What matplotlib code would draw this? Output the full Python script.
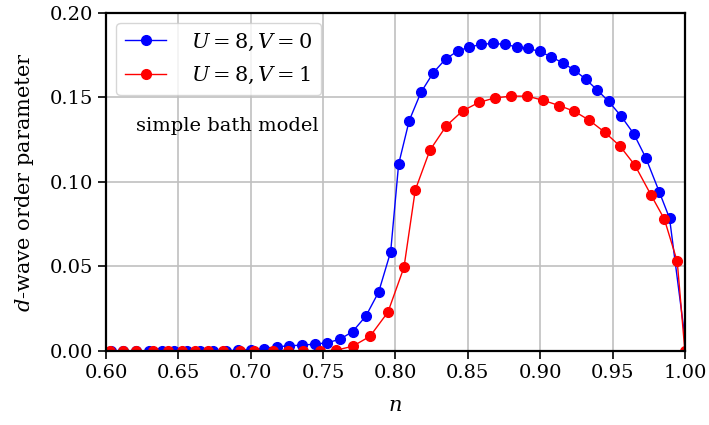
import matplotlib
matplotlib.use("Agg")
import matplotlib.pyplot as plt

plt.rcParams['font.family'] = ['DejaVu Serif']
plt.rcParams['mathtext.fontset'] = 'dejavuserif'

# U=8, V=0 (blue)
n_v0 = [0.6035, 0.612, 0.621, 0.630, 0.639, 0.647, 0.656, 0.665, 0.674, 0.683,
        0.691, 0.700, 0.709, 0.7179, 0.7266, 0.7354, 0.7444, 0.7529, 0.7617,
        0.7704, 0.7796, 0.7884, 0.7967, 0.8022, 0.8095, 0.8176, 0.8261, 0.8346,
        0.8429, 0.851, 0.8593, 0.8674, 0.8754, 0.884, 0.8918, 0.8996, 0.9077,
        0.9155, 0.9236, 0.9314, 0.9393, 0.9473, 0.9558, 0.9647, 0.973, 0.9823,
        0.9894, 1.0012]
d_v0 = [0.0, 0.0, 0.0, 0.0, 0.0, 0.0, 0.0, 0.0, 0.0, 0.0002,
        0.0005, 0.0009, 0.0015, 0.0025, 0.0031, 0.0035, 0.0041, 0.0049, 0.007,
        0.0115, 0.0207, 0.0349, 0.0587, 0.1105, 0.1362, 0.1529, 0.1645, 0.1726,
        0.1773, 0.1797, 0.1813, 0.1819, 0.1813, 0.1798, 0.1789, 0.1771, 0.1739,
        0.1704, 0.1661, 0.1608, 0.1544, 0.1476, 0.139, 0.1284, 0.1142, 0.0941,
        0.0785, 0.0]

# U=8, V=1 (red)
n_v1 = [0.6028, 0.6115, 0.6207, 0.6326, 0.643, 0.6522, 0.6614, 0.6706, 0.681,
        0.6925, 0.7022, 0.7156, 0.7259, 0.7363, 0.7478, 0.7589, 0.7704, 0.7824,
        0.7948, 0.8059, 0.8137, 0.8238, 0.8352, 0.8464, 0.8577, 0.8689, 0.8801,
        0.8911, 0.9022, 0.9132, 0.9237, 0.934, 0.9447, 0.9551, 0.9655, 0.9765,
        0.9858, 0.9947, 1.0]
d_v1 = [0.0, 0.0, 0.0, 0.0, 0.0, 0.0, 0.0, 0.0, 0.0,
        0.0, 0.0, 0.0, 0.0, 0.0, 0.0, 0.0005, 0.0028, 0.0087,
        0.023, 0.0495, 0.0952, 0.1187, 0.1332, 0.142, 0.147, 0.1497, 0.1507,
        0.1507, 0.1482, 0.1451, 0.1417, 0.1364, 0.1293, 0.1212, 0.1098, 0.0924,
        0.078, 0.053, 0.0]

fig = plt.figure(figsize=(7.09, 4.25), dpi=100)
ax = fig.add_axes([0.1495, 0.174, 0.8165, 0.796])

ax.plot(n_v0, d_v0, '-o', color='blue', lw=1.0, ms=7, label=r'$U=8, V=0$')
ax.plot(n_v1, d_v1, '-o', color='red', lw=1.0, ms=7, label=r'$U=8, V=1$')

ax.set_xlim(0.6, 1.0)
ax.set_ylim(0.0, 0.2)
ax.set_xticks([0.60, 0.65, 0.70, 0.75, 0.80, 0.85, 0.90, 0.95, 1.00])
ax.set_yticks([0.00, 0.05, 0.10, 0.15, 0.20])
ax.xaxis.set_major_formatter(matplotlib.ticker.FormatStrFormatter('%.2f'))
ax.yaxis.set_major_formatter(matplotlib.ticker.FormatStrFormatter('%.2f'))
ax.tick_params(labelsize=14, length=6, width=1.2)
ax.grid(True, color='#c0c0c0', lw=1.2)
for s in ax.spines.values():
    s.set_linewidth(1.6)

ax.set_xlabel(r'$n$', fontsize=15, labelpad=10)
ax.set_ylabel(r'$d$-wave order parameter', fontsize=15, labelpad=10)

ax.legend(loc='upper left', fontsize=15, borderaxespad=0.5,
          handletextpad=1.2, labelspacing=0.6)
ax.text(0.21, 0.665, 'simple bath model', transform=ax.transAxes,
        ha='center', va='center', fontsize=14)

fig.savefig('out.png', dpi=100)
